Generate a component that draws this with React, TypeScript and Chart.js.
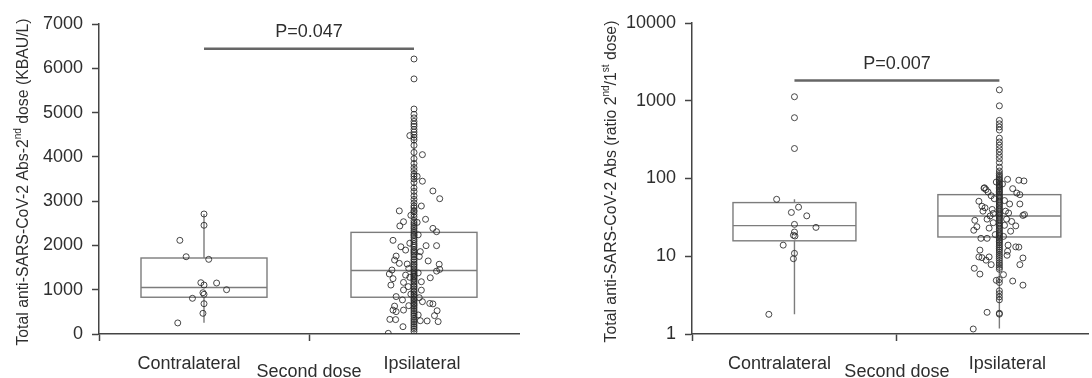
import React, { useEffect, useRef } from 'react';
import { Chart, registerables } from 'chart.js';

Chart.register(...registerables);

const FAMILY = '"Liberation Sans", Arial, Helvetica, sans-serif';

// ---------- shared ----------
const CATEGORIES = ['Contralateral', 'Ipsilateral'];
const CATEGORY_POS = [1, 3];
const X_TITLE = 'Second dose';
const BOX_HALF_WIDTH = 0.6;

// ---------- left chart (KBAU/L after 2nd dose) ----------
const L_Y_TICKS = [0, 1000, 2000, 3000, 4000, 5000, 6000, 7000];
const L_Y_TITLE = [
  { t: 'Total anti-SARS-CoV-2 Abs-2' },
  { t: 'nd', sup: true },
  { t: ' dose (KBAU/L)' },
];
const L_Q1 = [830, 830];
const L_MEDIAN = [1050, 1435];
const L_Q3 = [1716, 2295];
const L_WHISKER_LOW = [255, 50];
const L_WHISKER_HIGH = [2709, 4480];
const L_P_TEXT = 'P=0.047';
const L_P_LEVEL = 6440;

const L_CONTRA_VALUES = [2710, 2455, 2115, 1745, 1686, 1158, 1106, 1151, 1000, 932, 896, 806, 684, 467, 250];
const L_CONTRA_JITTER = [0, 0, -0.23, -0.17, 0.045, -0.03, 0, 0.12, 0.215, -0.01, 0, -0.11, 0, -0.01, -0.25];

const L_IPSI_COLUMN = [
  6210, 5760, 5080, 4960, 4880, 4800, 4740, 4690, 4620, 4560, 4500, 4440, 4380, 4260, 4100, 3960,
  3850, 3760, 3690, 3610, 3560, 3500, 3420, 3300, 3220, 3120, 3040, 2960, 2890, 2850, 2790, 2760,
  2700, 2640, 2560, 2510, 2470, 2420, 2380, 2330, 2290, 2250, 2220, 2180, 2130, 2090, 2040, 2000,
  1960, 1910, 1880, 1850, 1820, 1780, 1740, 1690, 1660, 1620, 1580, 1550, 1510, 1470, 1430, 1400,
  1370, 1340, 1310, 1290, 1260, 1230, 1200, 1170, 1130, 1090, 1060, 1020, 980, 950, 910, 880, 840,
  800, 770, 740, 700, 670, 640, 600, 560, 520, 480, 440, 400, 350, 310, 270, 230, 190, 150, 110, 60,
];
const L_IPSI_SPREAD_VALUES = [
  4050, 4480, 3450, 3230, 3055, 2890, 2780, 2590, 2535, 2440, 2385, 2310, 2520, 2115, 1970, 1895,
  1995, 1995, 1860, 1760, 1670, 1595, 1580, 1650, 1575, 1460, 1420, 1445, 1355, 1250, 1105, 1330,
  1270, 1180, 1165, 1070, 995, 990, 845, 770, 630, 540, 505, 540, 730, 690, 680, 525, 415, 280, 330,
  325, 165, 295, 300, 15, 2240, 2050, 1750, 1480, 1380, 900, 820, 640, 430, 1280, 3560, 2680,
];
const L_IPSI_SPREAD_JITTER = [
  0.08, -0.04, 0.08, 0.18, 0.245, 0.07, -0.14, 0.11, -0.1, -0.135, 0.18, 0.215, 0.03, -0.2, -0.125, -0.08,
  0.115, 0.215, 0.06, -0.17, -0.185, -0.14, -0.065, 0.135, 0.24, 0.245, 0.215, -0.21, -0.235, -0.2, -0.22, -0.08,
  0.155, 0.07, -0.1, -0.055, -0.1, 0.07, -0.17, -0.11, -0.185, -0.2, -0.17, -0.1, 0.08, 0.15, 0.18, 0.22, 0.195, 0.23, -0.23,
  -0.175, -0.105, 0.125, 0.06, -0.245, 0.04, -0.04, 0.05, -0.05, 0.04, -0.03, 0.05, -0.05, 0.04, -0.04, 0.03, -0.03,
];

// ---------- right chart (ratio 2nd/1st dose, log) ----------
const R_Y_TICKS = [1, 10, 100, 1000, 10000];
const R_Y_TITLE = [
  { t: 'Total anti-SARS-CoV-2 Abs (ratio 2' },
  { t: 'nd', sup: true },
  { t: '/1' },
  { t: 'st', sup: true },
  { t: ' dose)' },
];
const R_Q1 = [15.8, 17.7];
const R_MEDIAN = [24.8, 33];
const R_Q3 = [49, 62];
const R_WHISKER_LOW = [1.8, 1.18];
const R_WHISKER_HIGH = [54, 125];
const R_P_TEXT = 'P=0.007';
const R_P_LEVEL = 1820;

const R_CONTRA_VALUES = [1126, 605, 243, 54, 42.8, 36.6, 33.1, 25.7, 23.5, 20.5, 18.6, 18.2, 13.9, 10.9, 9.3, 1.79];
const R_CONTRA_JITTER = [0, 0, 0, -0.174, 0.04, -0.03, 0.12, 0, 0.21, 0, -0.01, 0.005, -0.11, 0, -0.01, -0.25];

const R_IPSI_COLUMN = [
  1380, 860, 560, 505, 460, 420, 330, 295, 268, 242, 220, 198, 180, 160, 140, 125, 116, 110, 104, 99,
  95, 91, 87, 83, 80, 77, 74, 71, 68, 66, 63, 60, 58, 56, 53, 51, 49, 47, 45, 43, 41, 39.5, 38, 36,
  35, 33.5, 32, 31, 29.5, 28.5, 27, 26, 25, 24, 23, 22, 21, 20, 19.3, 18.5, 17.8, 17, 16.2, 15.5,
  14.8, 14, 13.3, 12.6, 12, 11.3, 10.6, 10, 9.4, 8.8, 8.2, 7.7, 7.2, 6.8, 5, 4.6, 3.6, 3.3, 3.0, 2.75,
  1.85, 1.8,
];
const R_IPSI_SPREAD_VALUES = [
  97.6, 95, 93, 75, 67, 72, 74, 65, 62, 51, 44, 42, 47, 47, 29, 24, 21.6, 24.6, 34.4, 33.5, 36, 17, 17,
  12, 9.8, 9.6, 9.8, 8.9, 7.8, 7, 5.9, 13.9, 13.2, 13.1, 11.6, 10.3, 9.5, 7.8, 5.8, 4.8, 4.25, 4.9, 1.9,
  1.16, 55, 52, 40, 38, 33, 30, 27, 25, 23, 21, 19, 18, 60, 85, 90, 35.5, 28, 30, 38, 76,
];
const R_IPSI_SPREAD_JITTER = [
  0.08, 0.19, 0.24, -0.15, -0.11, -0.13, 0.13, 0.17, 0.2, -0.2, -0.17, -0.14, 0.1, 0.2, -0.24, -0.22, -0.25, 0.16, 0.245, 0.23, 0.09, -0.18, -0.12,
  -0.19, -0.2, -0.17, -0.1, -0.13, -0.08, -0.245, -0.19, 0.085, 0.16, 0.19, 0.08, 0.075, 0.23, 0.2, 0.04, 0.13, 0.23, -0.03, -0.12,
  -0.255, -0.05, 0.05, -0.07, 0.06, -0.09, 0.07, -0.06, 0.05, -0.1, 0.11, -0.04, 0.04, -0.08, 0.03, -0.03, -0.06, 0.12, -0.12, -0.16, -0.145,
];

type Seg = { t: string; sup?: boolean };

interface PanelCfg {
  yType: 'linear' | 'logarithmic';
  yMin: number;
  yMax: number;
  yTicks: number[];
  yTitle: Seg[];
  yTitleX: number;
  axisLeft: number;
  xMax: number;
  padRight: number;
  padTop: number;
  q1: number[];
  med: number[];
  q3: number[];
  wLo: number[];
  wHi: number[];
  pText: string;
  pLevel: number;
  contraValues: number[];
  contraJitter: number[];
  ipsiColumn: number[];
  ipsiSpreadValues: number[];
  ipsiSpreadJitter: number[];
}

function drawRotatedRich(ctx: CanvasRenderingContext2D, segs: Seg[], cx: number, cy: number, size: number) {
  ctx.save();
  ctx.translate(cx, cy);
  ctx.rotate(-Math.PI / 2);
  const base = `${size}px ${FAMILY}`;
  const sup = `${Math.round(size * 0.62)}px ${FAMILY}`;
  const widths = segs.map((s) => {
    ctx.font = s.sup ? sup : base;
    return ctx.measureText(s.t).width;
  });
  const total = widths.reduce((a, b) => a + b, 0);
  let x = -total / 2;
  const baseY = size * 0.36;
  ctx.fillStyle = '#2e2e2e';
  ctx.textBaseline = 'alphabetic';
  ctx.textAlign = 'left';
  segs.forEach((s, i) => {
    ctx.font = s.sup ? sup : base;
    ctx.fillText(s.t, x, s.sup ? baseY - size * 0.42 : baseY);
    x += widths[i];
  });
  ctx.restore();
}

function buildChart(canvas: HTMLCanvasElement, cfg: PanelCfg) {
  const points = [
    ...cfg.contraValues.map((v, i) => ({ x: CATEGORY_POS[0] + cfg.contraJitter[i], y: v })),
    ...cfg.ipsiColumn.map((v) => ({ x: CATEGORY_POS[1], y: v })),
    ...cfg.ipsiSpreadValues.map((v, i) => ({ x: CATEGORY_POS[1] + cfg.ipsiSpreadJitter[i], y: v })),
  ];

  const boxPlugin = {
    id: 'boxes',
    beforeDatasetsDraw(chart: any) {
      const xs = chart.scales.x;
      const ys = chart.scales.y;
      const ctx: CanvasRenderingContext2D = chart.ctx;
      ctx.save();
      ctx.strokeStyle = '#7c7c7c';
      ctx.lineWidth = 1.4;
      CATEGORY_POS.forEach((pos, i) => {
        const cx = xs.getPixelForValue(pos);
        const xl = xs.getPixelForValue(pos - BOX_HALF_WIDTH);
        const xr = xs.getPixelForValue(pos + BOX_HALF_WIDTH);
        const y1 = ys.getPixelForValue(cfg.q1[i]);
        const ym = ys.getPixelForValue(cfg.med[i]);
        const y3 = ys.getPixelForValue(cfg.q3[i]);
        const yl = ys.getPixelForValue(cfg.wLo[i]);
        const yh = ys.getPixelForValue(cfg.wHi[i]);
        ctx.strokeRect(xl, y3, xr - xl, y1 - y3);
        ctx.beginPath();
        ctx.moveTo(xl, ym);
        ctx.lineTo(xr, ym);
        ctx.moveTo(cx, y3);
        ctx.lineTo(cx, yh);
        ctx.moveTo(cx, y1);
        ctx.lineTo(cx, yl);
        ctx.stroke();
      });
      ctx.restore();
    },
    afterDraw(chart: any) {
      const xs = chart.scales.x;
      const ys = chart.scales.y;
      const ctx: CanvasRenderingContext2D = chart.ctx;
      ctx.save();
      ctx.fillStyle = '#2e2e2e';
      ctx.font = `18px ${FAMILY}`;
      ctx.textAlign = 'center';
      ctx.textBaseline = 'alphabetic';
      ctx.fillText(CATEGORIES[0], xs.getPixelForValue(CATEGORY_POS[0]) - 15, 369);
      ctx.fillText(CATEGORIES[1], xs.getPixelForValue(CATEGORY_POS[1]) + 8, 369);
      ctx.fillText(X_TITLE, xs.getPixelForValue(2), 377);
      ctx.fillText(cfg.pText, xs.getPixelForValue(2), ys.getPixelForValue(cfg.pLevel) - 11.5);
      ctx.restore();
      drawRotatedRich(ctx, cfg.yTitle, cfg.yTitleX, (chart.chartArea.top + chart.chartArea.bottom) / 2 + 3, 15.8);
    },
  };

  return new Chart(canvas, {
    data: {
      datasets: [
        {
          type: 'scatter',
          data: points,
          pointRadius: 3,
          pointHoverRadius: 3,
          pointBorderWidth: 1,
          borderColor: 'rgba(40,40,40,0.85)',
          backgroundColor: 'rgba(0,0,0,0)',
          pointStyle: 'circle',
        } as any,
        {
          type: 'line',
          data: [
            { x: CATEGORY_POS[0], y: cfg.pLevel },
            { x: CATEGORY_POS[1], y: cfg.pLevel },
          ],
          borderColor: '#666',
          borderWidth: 2.5,
          pointRadius: 0,
          fill: false,
        } as any,
      ],
    },
    options: {
      animation: false,
      responsive: false,
      events: [],
      layout: { padding: { left: 0, right: cfg.padRight, top: cfg.padTop, bottom: 0 } },
      plugins: { legend: { display: false }, tooltip: { enabled: false } },
      scales: {
        x: {
          type: 'linear',
          min: 0,
          max: cfg.xMax,
          afterBuildTicks: (s: any) => {
            s.ticks = [{ value: 0 }, { value: 2 }];
          },
          afterFit: (s: any) => {
            s.height = 44;
          },
          ticks: { display: false },
          grid: { drawOnChartArea: false, drawTicks: true, tickLength: 7, color: '#444', tickWidth: 1.5 },
          border: { display: true, color: '#444', width: 1.5 },
        },
        y: {
          type: cfg.yType,
          min: cfg.yMin,
          max: cfg.yMax,
          afterBuildTicks: (s: any) => {
            s.ticks = cfg.yTicks.map((v) => ({ value: v }));
          },
          afterFit: (s: any) => {
            s.width = cfg.axisLeft;
          },
          ticks: {
            font: { size: 18, family: FAMILY },
            color: '#2e2e2e',
            padding: 9,
            autoSkip: false,
            callback: (v: any) => String(v),
          },
          grid: { drawOnChartArea: false, drawTicks: true, tickLength: 7, color: '#444', tickWidth: 1.5 },
          border: { display: true, color: '#444', width: 1.5 },
        } as any,
      },
    },
    plugins: [boxPlugin],
  } as any);
}

const LEFT_CFG: PanelCfg = {
  yType: 'linear',
  yMin: 0,
  yMax: 7000,
  yTicks: L_Y_TICKS,
  yTitle: L_Y_TITLE,
  yTitleX: 22,
  axisLeft: 99,
  xMax: 4,
  padRight: 27,
  padTop: 24,
  q1: L_Q1,
  med: L_MEDIAN,
  q3: L_Q3,
  wLo: L_WHISKER_LOW,
  wHi: L_WHISKER_HIGH,
  pText: L_P_TEXT,
  pLevel: L_P_LEVEL,
  contraValues: L_CONTRA_VALUES,
  contraJitter: L_CONTRA_JITTER,
  ipsiColumn: L_IPSI_COLUMN,
  ipsiSpreadValues: L_IPSI_SPREAD_VALUES,
  ipsiSpreadJitter: L_IPSI_SPREAD_JITTER,
};

const RIGHT_CFG: PanelCfg = {
  yType: 'logarithmic',
  yMin: 1,
  yMax: 10000,
  yTicks: R_Y_TICKS,
  yTitle: R_Y_TITLE,
  yTitleX: 64,
  axisLeft: 146,
  xMax: 3.865,
  padRight: 0,
  padTop: 23,
  q1: R_Q1,
  med: R_MEDIAN,
  q3: R_Q3,
  wLo: R_WHISKER_LOW,
  wHi: R_WHISKER_HIGH,
  pText: R_P_TEXT,
  pLevel: R_P_LEVEL,
  contraValues: R_CONTRA_VALUES,
  contraJitter: R_CONTRA_JITTER,
  ipsiColumn: R_IPSI_COLUMN,
  ipsiSpreadValues: R_IPSI_SPREAD_VALUES,
  ipsiSpreadJitter: R_IPSI_SPREAD_JITTER,
};

export default function App() {
  const leftRef = useRef<HTMLCanvasElement>(null);
  const rightRef = useRef<HTMLCanvasElement>(null);

  useEffect(() => {
    const a = buildChart(leftRef.current!, LEFT_CFG);
    const b = buildChart(rightRef.current!, RIGHT_CFG);
    return () => {
      a.destroy();
      b.destroy();
    };
  }, []);

  return (
    <div style={{ position: 'absolute', left: 0, top: 0, width: 1092, height: 378, background: '#fff', overflow: 'hidden' }}>
      <canvas ref={leftRef} width={546} height={378} style={{ position: 'absolute', left: 0, top: 0, width: 546, height: 378 }} />
      <canvas ref={rightRef} width={546} height={378} style={{ position: 'absolute', left: 546, top: 0, width: 546, height: 378 }} />
    </div>
  );
}
